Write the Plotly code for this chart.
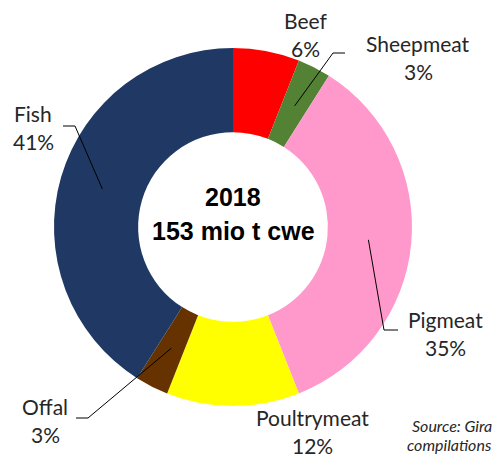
import math
import plotly.graph_objects as go

# Meat and fish consumption shares, 2018
categories = ["Beef", "Sheepmeat", "Pigmeat", "Poultrymeat", "Offal", "Fish"]
shares = [6, 3, 35, 12, 3, 41]
colors = ["#FF0000", "#548235", "#FF99CC", "#FFFF00", "#663300", "#1F3864"]
center_title = ["2018", "153 mio t cwe"]
source_note = ["Source: Gira", "compilations"]

W, H = 498, 457
CX, CY, R_OUT = 233, 227, 179      # ring centre and outer radius (px)
R_LEADER = 136                      # radius where leader lines start

# label centre (px) and optional leader elbow / end (px)
label_layout = {
    "Beef":        {"pos": (305, 34), "elbow": None},
    "Sheepmeat":   {"pos": (418, 57), "elbow": ((333, 53), (345, 53))},
    "Pigmeat":     {"pos": (445, 333), "elbow": ((384, 330), (398, 330))},
    "Poultrymeat": {"pos": (312, 431), "elbow": None},
    "Offal":       {"pos": (45, 420), "elbow": ((88, 418), (76, 418))},
    "Fish":        {"pos": (33, 127), "elbow": ((75, 126), (63, 126))},
}

fig = go.Figure()

fig.add_trace(go.Pie(
    labels=categories,
    values=shares,
    marker=dict(colors=colors, line=dict(width=0)),
    sort=False,
    direction="clockwise",
    rotation=0,
    hole=0.53,
    textinfo="none",
    hoverinfo="label+percent",
    showlegend=False,
    domain=dict(x=[(CX - R_OUT) / W, (CX + R_OUT) / W],
                y=[(H - CY - R_OUT) / H, (H - CY + R_OUT) / H]),
))

label_font = dict(family="Lato, Carlito, sans-serif", size=21, color="#262626")
total = sum(shares)
cum = 0
for name, val in zip(categories, shares):
    mid = (cum + val / 2) / total
    cum += val
    theta = 2 * math.pi * mid
    pct = f"{round(100 * val / total)}%"
    spec = label_layout[name]
    if spec["elbow"] is not None:
        sx = CX + R_LEADER * math.sin(theta)
        sy = CY - R_LEADER * math.cos(theta)
        (ex, ey), (fx, fy) = spec["elbow"]
        # leader line drawn above the ring
        fig.add_shape(type="path", xref="x", yref="y", layer="above",
                      path=f"M {sx:.1f},{sy:.1f} L {ex},{ey} L {fx},{fy}",
                      line=dict(color="#000000", width=1))
    lx, ly = spec["pos"]
    fig.add_annotation(x=lx, y=ly - 14, text=name, showarrow=False,
                       font=label_font, xanchor="center", yanchor="middle")
    fig.add_annotation(x=lx, y=ly + 14, text=pct, showarrow=False,
                       font=label_font, xanchor="center", yanchor="middle")

# centre title
center_font = dict(family="Liberation Sans, Arial, sans-serif", size=25, color="#000000")
for i, line in enumerate(center_title):
    fig.add_annotation(x=CX, y=197 + 34 * i, text=f"<b>{line}</b>", showarrow=False,
                       font=center_font, xanchor="center", yanchor="middle")

# source note
note_font = dict(family="Lato, Carlito, sans-serif", size=16, color="#262626")
for i, line in enumerate(source_note):
    fig.add_annotation(x=494, y=425 + 19 * i, text=f"<i>{line}</i>", showarrow=False,
                       font=note_font, xanchor="right", yanchor="middle")

fig.update_layout(
    width=W, height=H,
    margin=dict(l=0, r=0, t=0, b=0),
    paper_bgcolor="white", plot_bgcolor="white",
    xaxis=dict(range=[0, W], visible=False, fixedrange=True),
    yaxis=dict(range=[H, 0], visible=False, fixedrange=True),
    showlegend=False,
)

fig.write_html("out.html")
